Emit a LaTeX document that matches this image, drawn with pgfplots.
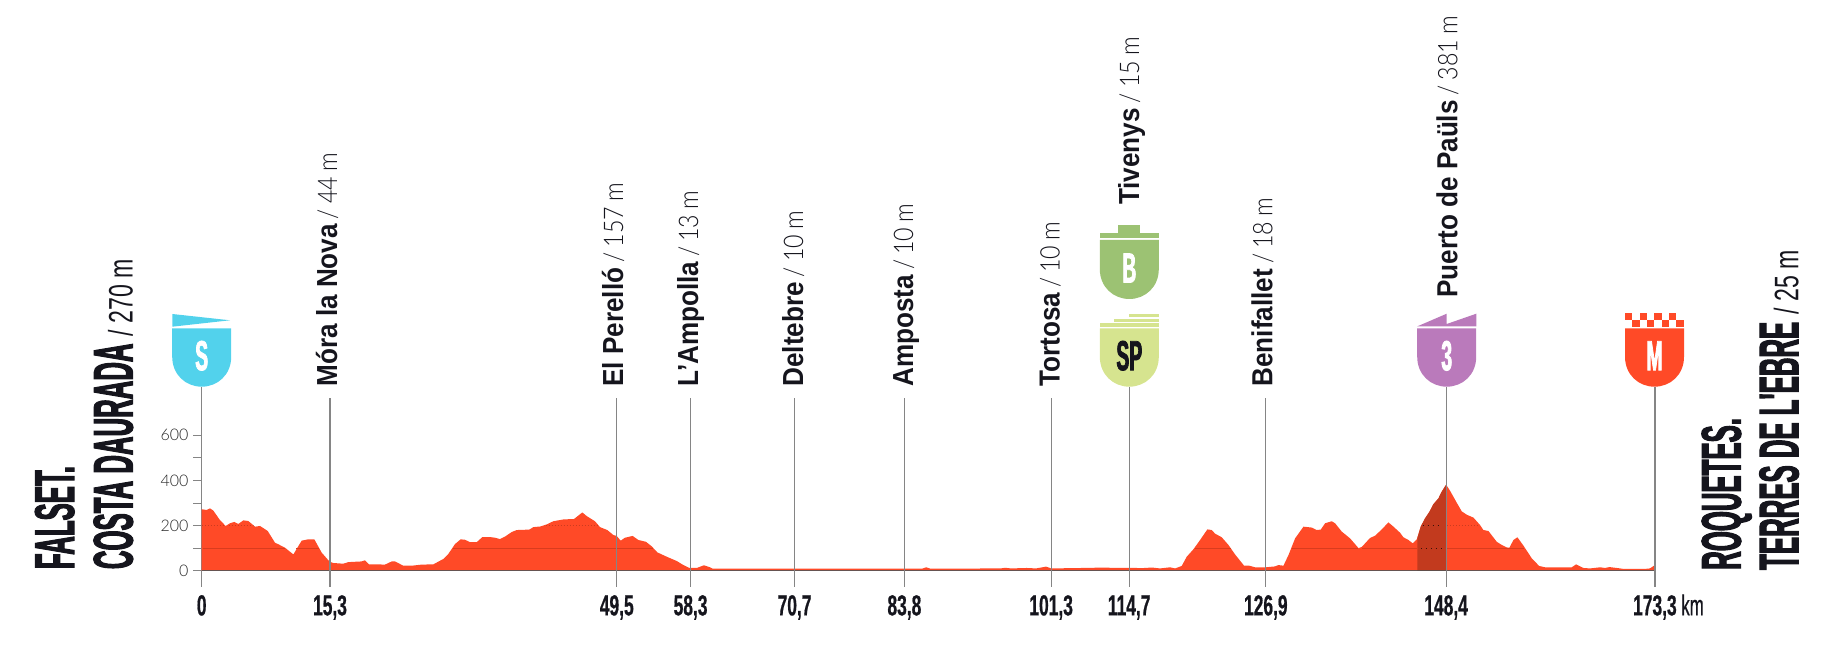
\documentclass[border=0pt]{standalone}
\usepackage{fontspec}
\usepackage{pgfplots}
\pgfplotsset{compat=1.18}
\setmainfont{Liberation Sans}
\newfontfamily\titlef{Liberation Sans}[UprightFont=* Bold,FakeStretch=.46,FakeBold=1.8]
\newfontfamily\tickf{Liberation Sans}[UprightFont=* Bold,FakeStretch=.6,FakeBold=.6]
\newfontfamily\condf{Liberation Sans}[FakeStretch=.68]
\newfontfamily\kmf{Liberation Sans}[FakeStretch=.58,FakeBold=.4]
\newfontfamily\stagef{Liberation Sans}[UprightFont=* Bold,FakeStretch=.9]
\newfontfamily\lightf{Lato Light}[FakeStretch=.86,WordSpace=.8]
\newfontfamily\tickyf{Lato Light}
\definecolor{prof}{HTML}{FF4A27}
\definecolor{profd}{HTML}{C23A1E}
\definecolor{profline}{HTML}{D93C1E}
\definecolor{ink}{HTML}{15151D}
\definecolor{linegray}{HTML}{858585}
\definecolor{cS}{HTML}{52D2EC}
\definecolor{cB}{HTML}{9CC273}
\definecolor{cSP}{HTML}{D6E48F}
\definecolor{cIII}{HTML}{BA7ABB}
\newcommand{\shield}[6]{% cx, colour, top, bottom, letter, letter colour
  \fill[#2] (#1-29.5,#3) -- (#1+29.5,#3) -- (#1+29.5,#4-30)
    .. controls (#1+29.5,#4-12) and (#1+16,#4) .. (#1,#4)
    .. controls (#1-16,#4) and (#1-29.5,#4-12) .. (#1-29.5,#4-30) -- cycle;
  \node[text=#6,inner sep=0pt,anchor=base] at (#1,#4-16.5) {\titlef\fontsize{42pt}{42pt}\selectfont #5};
}
\newcommand{\stage}[4]{% baseline x, start y, name, rest
  \node[rotate=90,anchor=base west,inner sep=0pt,text=ink] at (#1,#2)
    {\fontsize{29pt}{29pt}\selectfont{\stagef #3}\lightf\fontsize{27pt}{27pt}\selectfont\ #4};
}
\begin{document}
\begin{tikzpicture}
\path[use as bounding box] (0,0) rectangle (1836pt,658pt);
\begin{axis}[
  at={(201.7pt,71.3pt)},anchor=south west,
  scale only axis,width=1453.2pt,height=200pt,
  xmin=0,xmax=173.3,ymin=-70.9,ymax=815,
  clip=false,
  axis y line=left,
  axis x line=bottom,
  axis line style={-},
  x axis line style={draw=none},
  y axis line style={draw=linegray,line width=1.2pt},
  xtick={0,15.3,49.5,58.3,70.7,83.8,101.3,110.6,126.9,148.4,173.3},
  xticklabels={0,{15,3},{49,5},{58,3},{70,7},{83,8},{101,3},{114,7},{126,9},{148,4},{173,3\rlap{\kmf\ km}}},
  ytick={0,100,200,300,400,500,600},
  yticklabels={0,,200,,400,,600},
  major tick length=8.7pt,
  tick align=outside,
  x tick style={draw=none},
  y tick style={draw=linegray,line width=.9pt},
  x tick label style={font=\tickf\fontsize{29pt}{29pt}\selectfont,text=ink,anchor=base,yshift=-20pt},
  y tick label style={font=\tickyf\fontsize{16pt}{16pt}\selectfont,text=black!85,xshift=-1pt},
  /pgf/number format/assume math mode=true,
]
\addplot[fill=prof,draw=none] coordinates {
(0,0)(0,272)(0.59,269)(0.99,276)(1.39,266)(2.18,224)(2.86,198)(3.37,210)(3.89,216)(4.37,207)(4.97,223)(5.56,220)(6.36,195)(6.96,198)(7.87,176)(8.74,124)(9.14,117)(9.93,102)(10.93,72)(11.92,133)(12.72,139)(13.43,139)(14.31,80)(15.25,40)(15.7,34)(16.89,31)(17.49,38)(19.08,41)(19.47,46)(19.95,28)(20.87,28)(21.86,27)(22.66,41)(23.05,41)(24.05,22)(25.04,22)(26.23,27)(27.62,28)(28.82,52)(29.41,74)(30.21,118)(30.88,139)(31.4,137)(32,126)(32.79,126)(33.47,149)(34.38,149)(34.98,146)(35.57,140)(36.17,151)(36.96,171)(37.56,180)(39.07,182)(39.55,193)(40.42,196)(41.14,205)(41.93,219)(43.13,227)(44.4,229)(45.39,258)(45.91,242)(46.9,219)(47.5,193)(48.37,180)(49.09,158)(49.49,154)(49.96,133)(50.48,146)(51.39,154)(52.07,136)(52.98,128)(53.66,108)(54.34,81)(55.45,62)(56.64,43)(57.44,25)(58.15,12)(59.03,12)(59.9,24)(60.62,15)(60.95,9)(70,9)(85.9,9)(86.4,15)(86.9,9)(95.3,10)(95.8,13)(96.5,10)(98.4,12)(99.5,10)(100.7,18)(101.3,10)(105,12)(107.9,14)(108.6,12)(111,13)(112,11)(113.3,14)(114.29,10)(115.48,15)(116.08,10)(116.87,21)(117.47,62)(118.27,95)(119.06,136)(119.93,183)(120.45,180)(120.85,164)(121.64,148)(122.44,114)(123.23,72)(124.31,22)(124.94,22)(125.62,15)(126.89,15)(128,19)(128.4,25)(129,22)(129.6,69)(130.39,143)(131.39,195)(132.38,191)(132.97,180)(133.45,182)(133.97,210)(134.76,219)(135.16,210)(135.96,173)(136.95,143)(137.95,100)(138.34,105)(139.33,145)(139.93,155)(140.73,183)(141.52,214)(142.12,195)(142.91,168)(143.31,148)(143.91,136)(144.42,121)(144.9,139)(145.37,195)(145.89,232)(146.41,261)(146.89,295)(147.48,320)(147.88,350)(148.4,381)(148.87,354)(149.67,301)(150.26,263)(150.86,248)(151.66,235)(152.45,202)(152.85,180)(153.44,176)(154.44,128)(155.03,114)(155.63,103)(155.95,102)(156.43,136)(156.9,148)(157.62,111)(158.61,55)(159.49,21)(160.2,15)(163.38,15)(163.9,28)(164.78,12)(165.57,10)(166.76,15)(167.36,12)(167.88,16)(168.75,12)(169.55,8)(172.13,8)(172.7,10)(173.3,25)(173.3,0)
} -- cycle;
\addplot[fill=profd,draw=none] coordinates {
(144.98,0)(144.98,145)(145.37,195)(145.89,232)(146.41,261)(146.89,295)(147.48,320)(147.88,350)(148.4,381)(148.4,0)
} -- cycle;
% lines of the grid inside the profile, in a darker shade of the fill
\addplot[draw=profline,line width=.9pt,forget plot] coordinates {(0.1,100.5)(9.9,100.5)};
\addplot[draw=profline,line width=.9pt,forget plot] coordinates {(11.3,100.5)(14,100.5)};
\addplot[draw=profline,line width=.9pt,forget plot] coordinates {(30,100.5)(53.8,100.5)};
\addplot[draw=profline,line width=.9pt,forget plot] coordinates {(118.5,100.5)(122.7,100.5)};
\addplot[draw=profline,line width=.9pt,forget plot] coordinates {(130,100.5)(137.9,100.5)};
\addplot[draw=profline,line width=.9pt,forget plot] coordinates {(138.4,100.5)(144.9,100.5)};
\addplot[draw=profline,line width=.9pt,forget plot] coordinates {(148.5,100.5)(157.7,100.5)};
\pgfplotsset{inner200/.style={draw=black,opacity=.2,line width=.8pt,dash pattern=on 1.5pt off 1.5pt,forget plot}}
\addplot[inner200] coordinates {(0,200)(2.8,200)};
\addplot[inner200] coordinates {(3.2,200)(6.2,200)};
\addplot[inner200] coordinates {(41,200)(47.4,200)};
\addplot[inner200] coordinates {(148.5,200)(152.4,200)};
\addplot[draw=black,opacity=.7,line width=.9pt,dash pattern=on 1pt off 4pt,forget plot] coordinates {(145.6,200)(147.8,200)};
\addplot[draw=black,opacity=.7,line width=.9pt,dash pattern=on 1pt off 4pt,forget plot] coordinates {(145.4,100.5)(147.9,100.5)};
% baseline and stage lines
\addplot[draw=black!70,opacity=.85,line width=1.3pt] coordinates {(0,0)(173.3,0)};
\pgfplotsset{stageline/.style={draw=linegray,line width=1.2pt,forget plot}}
\addplot[stageline] coordinates {(15.3,-70.9)(15.3,763)};
\addplot[stageline] coordinates {(49.5,-70.9)(49.5,763)};
\addplot[stageline] coordinates {(58.3,-70.9)(58.3,763)};
\addplot[stageline] coordinates {(70.7,-70.9)(70.7,763)};
\addplot[stageline] coordinates {(83.8,-70.9)(83.8,763)};
\addplot[stageline] coordinates {(101.3,-70.9)(101.3,763)};
\addplot[stageline] coordinates {(110.6,-70.9)(110.6,815)};
\addplot[stageline] coordinates {(126.9,-70.9)(126.9,763)};
\addplot[stageline] coordinates {(148.4,-70.9)(148.4,815)};
\addplot[stageline] coordinates {(173.3,-70.9)(173.3,815)};
\end{axis}
\begin{scope}[shift={(0,658pt)},x=1pt,y=-1pt]
% badges
\fill[cS] (172.3,314) -- (230,320.3) -- (172.3,326.7) -- cycle;
\shield{201.7}{cS}{328.3}{386.7}{S}{white}
\fill[cB] (1099.7,232.7) rectangle (1159,238.3);
\fill[cB] (1118.3,225.3) rectangle (1140,232.7);
\shield{1129.3}{cB}{240}{299}{B}{white}
\fill[cSP] (1099.7,323.3) rectangle (1159,327.3);
\fill[cSP] (1114,319) rectangle (1159,322.3);
\fill[cSP] (1129,314) rectangle (1159,317);
\shield{1129.3}{cSP}{328.3}{386.7}{SP}{ink}
\fill[cIII] (1417,326.5) -- (1446.7,313.7) -- (1446.7,324) -- (1476.3,313.7) -- (1476.3,326.5) -- cycle;
\shield{1446.7}{cIII}{328.3}{386.7}{3}{white}
\foreach \c in {0,2,4,6} {\fill[prof] (1625+7.33*\c,313.3) rectangle (1632.33+7.33*\c,320);}
\foreach \c in {1,3,5,7} {\fill[prof] (1625+7.33*\c,320.3) rectangle (1632.33+7.33*\c,327);}
\shield{1654.5}{prof}{328.3}{386.7}{M}{white}
% stage names
\stage{337}{386.7}{Móra la Nova}{/ 44 m}
\stage{623}{386.7}{El Perelló}{/ 157 m}
\stage{698}{386.7}{L’Ampolla}{/ 13 m}
\stage{803}{386.7}{Deltebre}{/ 10 m}
\stage{913}{386.7}{Amposta}{/ 10 m}
\stage{1059.5}{386.7}{Tortosa}{/ 10 m}
\stage{1139}{205}{Tivenys}{/ 15 m}
\stage{1272.3}{386.7}{Benifallet}{/ 18 m}
\stage{1457.3}{297.7}{Puerto de Paüls}{/ 381 m}
% start and finish
\node[rotate=90,anchor=base west,inner sep=0pt,text=ink] at (74,569.3) {\titlef\fontsize{56pt}{56pt}\selectfont FALSET.};
\node[rotate=90,anchor=base west,inner sep=0pt,text=ink] at (132.6,569.3) {\titlef\fontsize{56pt}{56pt}\selectfont COSTA DAURADA\ {\condf\fontsize{34pt}{34pt}\selectfont / 270 m}};
\node[rotate=90,anchor=base west,inner sep=0pt,text=ink] at (1740.7,570) {\titlef\fontsize{56pt}{56pt}\selectfont ROQUETES.};
\node[rotate=90,anchor=base west,inner sep=0pt,text=ink] at (1798.4,570) {\titlef\fontsize{56pt}{56pt}\selectfont TERRES DE L'EBRE\ {\condf\fontsize{34pt}{34pt}\selectfont / 25 m}};
\end{scope}
\end{tikzpicture}
\end{document}
